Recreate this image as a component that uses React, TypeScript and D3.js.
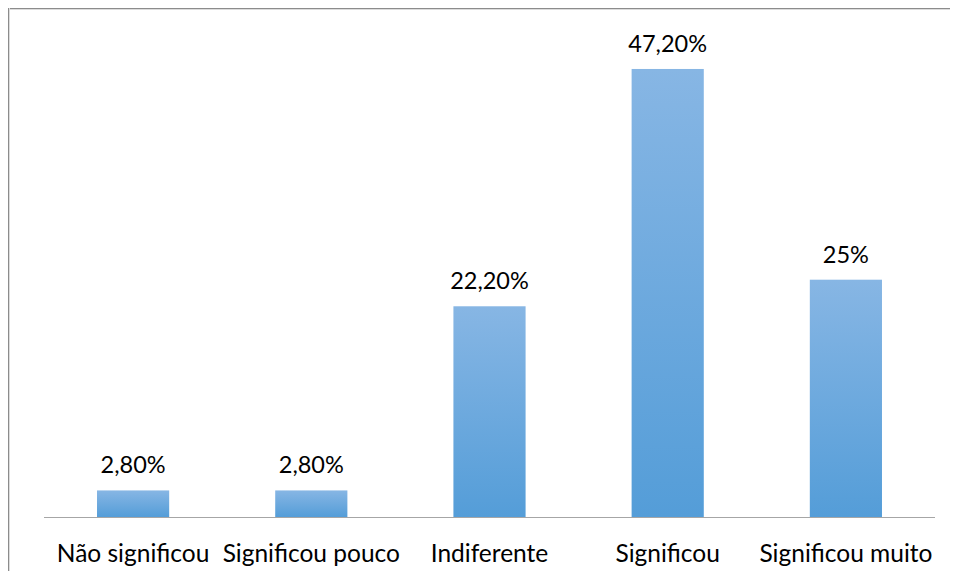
import React from "react";
import * as d3 from "d3";

const categories = ["Não significou", "Significou pouco", "Indiferente", "Significou", "Significou muito"];
const values = [2.8, 2.8, 22.2, 47.2, 25];
const valueLabels = ["2,80%", "2,80%", "22,20%", "47,20%", "25%"];

const W = 950;
const H = 563;
const plot = { left: 36, right: 927, top: 34.4, bottom: 509 };
const FONT = "Lato, 'Open Sans', sans-serif";

export default function App() {
  const x = d3
    .scaleBand<string>()
    .domain(categories)
    .range([plot.left, plot.right])
    .paddingInner(0.595)
    .paddingOuter(0.2975);
  const y = d3.scaleLinear().domain([0, 50]).range([plot.bottom, plot.top]);

  return (
    <svg width={W} height={H} style={{ display: "block" }}>
      <defs>
        <linearGradient id="barFill" x1="0" y1="0" x2="0" y2="1">
          <stop offset="0%" stopColor="#87b6e4" />
          <stop offset="100%" stopColor="#549dd8" />
        </linearGradient>
      </defs>
      <rect x={0} y={0} width={W} height={H} fill="#ffffff" />
      {/* chart frame */}
      <line x1={0} y1={0.5} x2={W} y2={0.5} stroke="#8c8c8c" strokeWidth={1} />
      <line x1={0} y1={1.5} x2={W} y2={1.5} stroke="#dcdcdc" strokeWidth={1} />
      <line x1={0.5} y1={0} x2={0.5} y2={H} stroke="#8c8c8c" strokeWidth={1} />
      <line x1={1.5} y1={0} x2={1.5} y2={H} stroke="#dcdcdc" strokeWidth={1} />

      {categories.map((c, i) => {
        const bx = x(c)!;
        const by = y(values[i]);
        return (
          <g key={c}>
            <rect
              x={bx}
              y={by}
              width={x.bandwidth()}
              height={plot.bottom - by}
              fill="url(#barFill)"
            />
            <text
              x={bx + x.bandwidth() / 2}
              y={by - 17}
              textAnchor="middle"
              fontFamily={FONT}
              fontSize={23.5}
              fill="#000"
            >
              {valueLabels[i]}
            </text>
            <text
              x={bx + x.bandwidth() / 2}
              y={554}
              textAnchor="middle"
              fontFamily={FONT}
              fontSize={24.5}
              fill="#000"
            >
              {c}
            </text>
          </g>
        );
      })}

      <line
        x1={plot.left}
        x2={plot.right}
        y1={plot.bottom + 0.5}
        y2={plot.bottom + 0.5}
        stroke="#a6a6a6"
        strokeWidth={1}
      />
    </svg>
  );
}
